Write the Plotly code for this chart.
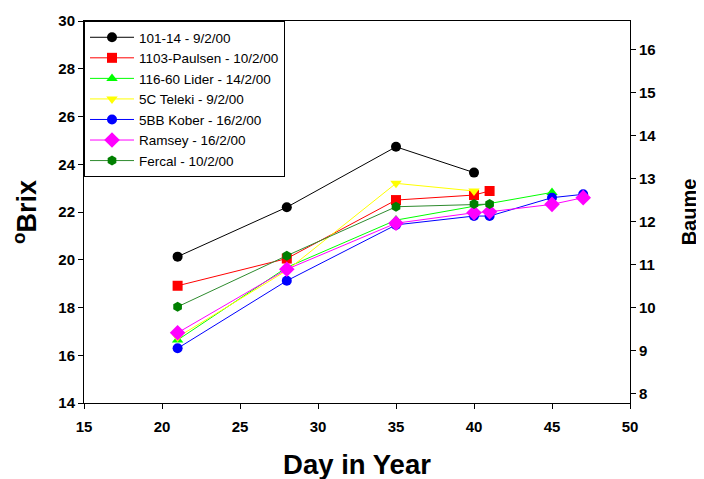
import plotly.graph_objects as go

names = ["101-14 - 9/2/00", "1103-Paulsen - 10/2/00", "116-60 Lider - 14/2/00",
         "5C Teleki - 9/2/00", "5BB Kober - 16/2/00", "Ramsey - 16/2/00", "Fercal - 10/2/00"]

days_101 = [21, 28, 35, 40]
brix_101 = [20.13, 22.2, 24.73, 23.65]

days_1103 = [21, 28, 35, 40, 41]
brix_1103 = [18.91, 20.05, 22.5, 22.71, 22.88]

days_116 = [21, 28, 35, 45]
brix_116 = [16.64, 19.68, 21.66, 22.82]

days_5c = [21, 28, 35, 40]
brix_5c = [16.76, 19.55, 23.2, 22.88]

days_5bb = [21, 28, 35, 40, 41, 45, 47]
brix_5bb = [16.29, 19.12, 21.46, 21.83, 21.83, 22.6, 22.74]

days_ram = [21, 28, 35, 40, 41, 45, 47]
brix_ram = [16.94, 19.6, 21.53, 21.97, 22.01, 22.32, 22.6]

days_fer = [21, 28, 35, 40, 41]
brix_fer = [18.03, 20.17, 22.22, 22.33, 22.33]

x_ticks = [15, 20, 25, 30, 35, 40, 45, 50]
brix_ticks = [14, 16, 18, 20, 22, 24, 26, 28, 30]
baume_ticks = [8, 9, 10, 11, 12, 13, 14, 15, 16]

series = [
    (days_101, brix_101, "black", "circle", "black"),
    (days_1103, brix_1103, "#FF0000", "square", "#FF0000"),
    (days_116, brix_116, "#00FF00", "triangle-up", "#00FF00"),
    (days_5c, brix_5c, "#FFFF00", "triangle-down", "#FFFF00"),
    (days_5bb, brix_5bb, "#0000FF", "circle", "#0000FF"),
    (days_ram, brix_ram, "#FF00FF", "diamond", "#FF00FF"),
    (days_fer, brix_fer, "#2E8B2E", "hexagon", "#007F00"),
]

FONT = "Liberation Sans, Arial, sans-serif"

fig = go.Figure()
for (x, y, lc, sym, mc), nm in zip(series, names):
    fig.add_trace(go.Scatter(
        x=x, y=y, name=nm, mode="lines+markers",
        line=dict(color=lc, width=1),
        marker=dict(symbol=sym, size=10 if sym != "diamond" else 12, color=mc,
                    line=dict(width=0)),
    ))

# invisible trace for Baume axis
fig.add_trace(go.Scatter(x=[15, 50], y=[14 / 1.8, 30 / 1.8], yaxis="y2",
                         mode="markers", marker=dict(opacity=0),
                         showlegend=False, hoverinfo="skip"))

fig.update_layout(
    width=704, height=479,
    margin=dict(l=76, r=82, t=13, b=84),
    paper_bgcolor="white", plot_bgcolor="white",
    font=dict(family=FONT, color="black"),
    showlegend=True,
    legend=dict(x=0, y=1, xanchor="left", yanchor="top",
                bordercolor="black", borderwidth=1, bgcolor="white",
                font=dict(family=FONT, size=13.5, color="black"),
                tracegroupgap=0, itemwidth=44),
    xaxis=dict(range=[15, 50], tickvals=x_ticks, showgrid=False, zeroline=False,
               showline=True, linecolor="black", linewidth=1, mirror=True,
               ticks="outside", ticklen=5, tickcolor="black", automargin=False,
               ticklabelstandoff=5,
               tickfont=dict(family=FONT, size=15, weight="bold"),
               title=dict(text="Day in Year", standoff=20,
                          font=dict(family=FONT, size=27.5, weight="bold"))),
    yaxis=dict(range=[14, 30], tickvals=brix_ticks, showgrid=False, zeroline=False,
               showline=True, linecolor="black", linewidth=1, automargin=False,
               ticks="outside", ticklen=5, tickcolor="black",
               tickfont=dict(family=FONT, size=15, weight="bold"),
               title=dict(text="<sup>o</sup>Brix", standoff=20,
                          font=dict(family=FONT, size=27, weight="bold"))),
    yaxis2=dict(range=[14 / 1.8, 30 / 1.8], tickvals=baume_ticks, overlaying="y",
                side="right", showgrid=False, zeroline=False, automargin=False,
                showline=True, linecolor="black", linewidth=1,
                ticks="outside", ticklen=5, tickcolor="black",
                tickfont=dict(family=FONT, size=15, weight="bold"),
                title=dict(text="Baume", standoff=26,
                           font=dict(family=FONT, size=20, weight="bold"))),
)

fig.write_html("out.html")
